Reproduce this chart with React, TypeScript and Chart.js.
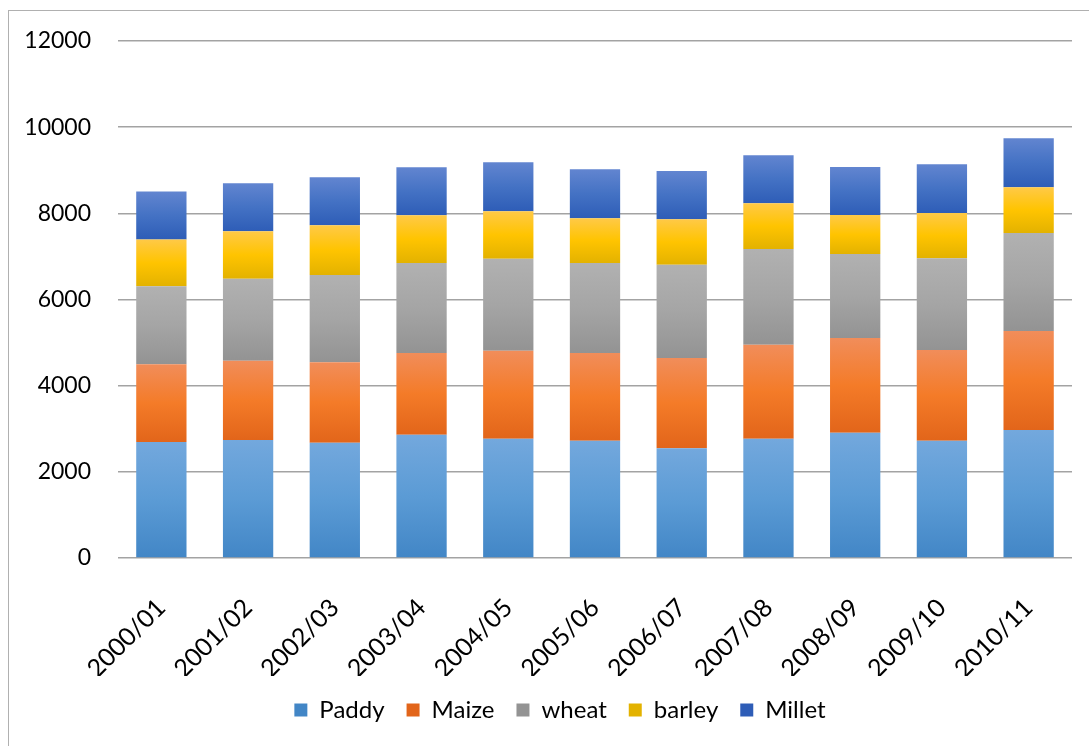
import React, { useEffect, useRef } from "react";
import { Chart, registerables } from "chart.js";

Chart.register(...registerables);

// Crop seasons along the x axis
const SEASONS = [
  "2000/01", "2001/02", "2002/03", "2003/04", "2004/05", "2005/06",
  "2006/07", "2007/08", "2008/09", "2009/10", "2010/11",
];

// Production per crop and season (stacked bottom to top)
const PADDY = [2690, 2740, 2675, 2860, 2770, 2720, 2550, 2770, 2905, 2720, 2970];
const MAIZE = [1810, 1840, 1870, 1900, 2040, 2040, 2090, 2180, 2200, 2105, 2300];
const WHEAT = [1805, 1900, 2025, 2090, 2135, 2090, 2165, 2225, 1950, 2135, 2275];
const BARLEY = [1090, 1105, 1155, 1105, 1105, 1035, 1060, 1060, 905, 1050, 1060];
const MILLET = [1110, 1115, 1115, 1115, 1135, 1140, 1115, 1115, 1115, 1130, 1140];

const SERIES_NAMES = ["Paddy", "Maize", "wheat", "barley", "Millet"];
const SERIES = [PADDY, MAIZE, WHEAT, BARLEY, MILLET];

// Y axis range and step
const Y_MIN = 0;
const Y_MAX = 12000;
const Y_STEP = 2000;

// Gradient stops per series: light top, base middle, dark bottom
const PALETTE: string[][] = [
  ["#73a8dd", "#5b9bd5", "#4286c6"],
  ["#f18d5a", "#f47b28", "#e2651a"],
  ["#b1b1b1", "#a5a5a5", "#939393"],
  ["#ffc947", "#ffc400", "#e3b200"],
  ["#6285d0", "#4472c4", "#2e5db7"],
];

const FONT = "Lato, 'Open Sans', 'DejaVu Sans', sans-serif";

function segmentFill(ctx: any, ds: number) {
  const stops = PALETTE[ds];
  const chart = ctx.chart;
  const yScale = chart.scales && chart.scales.y;
  if (ctx.type !== "data" || !yScale || !chart.chartArea) return stops[1];
  const i = ctx.dataIndex;
  let base = 0;
  for (let k = 0; k < ds; k++) base += SERIES[k][i];
  const top = base + SERIES[ds][i];
  const yTop = yScale.getPixelForValue(top);
  const yBase = yScale.getPixelForValue(base);
  if (!isFinite(yTop) || !isFinite(yBase) || yTop === yBase) return stops[1];
  const g = chart.ctx.createLinearGradient(0, yTop, 0, yBase);
  g.addColorStop(0, stops[0]);
  g.addColorStop(0.5, stops[1]);
  g.addColorStop(1, stops[2]);
  return g;
}

// Centre the legend row under the plot rather than the whole canvas
const legendUnderPlot = {
  id: "legendUnderPlot",
  afterLayout(chart: any) {
    const legend = chart.legend;
    if (!legend) return;
    const shift = chart.chartArea.left - 70;
    legend.left = shift;
    legend.width = legend.right - legend.left;
    if (typeof legend.adjustHitBoxes === "function") legend.adjustHitBoxes();
  },
};

export default function App() {
  const canvasRef = useRef<HTMLCanvasElement | null>(null);

  useEffect(() => {
    const canvas = canvasRef.current;
    if (!canvas) return;
    const chart = new Chart(canvas, {
      type: "bar",
      data: {
        labels: SEASONS,
        datasets: SERIES.map((values, ds) => ({
          label: SERIES_NAMES[ds],
          data: values,
          backgroundColor: (c: any) => segmentFill(c, ds),
          borderWidth: 0,
          categoryPercentage: 1,
          barPercentage: 0.58,
        })),
      },
      options: {
        animation: false,
        responsive: false,
        maintainAspectRatio: false,
        layout: { padding: { top: 41, right: 17, bottom: 14, left: 0 } },
        plugins: {
          tooltip: { enabled: false },
          legend: {
            position: "bottom",
            labels: {
              boxWidth: 13,
              boxHeight: 13,
              padding: 22,
              color: "#000",
              font: { family: FONT, size: 24 },
            },
          },
        },
        scales: {
          x: {
            stacked: true,
            grid: { display: false },
            border: { display: false },
            ticks: {
              color: "#000",
              font: { family: FONT, size: 25 },
              minRotation: 45,
              maxRotation: 45,
              padding: 27,
              autoSkip: false,
            },
            afterFit: (scale: any) => {
              scale.height = 118;
            },
          },
          y: {
            stacked: true,
            min: Y_MIN,
            max: Y_MAX,
            grid: { color: "#a3a3a3", lineWidth: 1.5, drawTicks: false },
            border: { display: false },
            ticks: {
              stepSize: Y_STEP,
              color: "#000",
              font: { family: FONT, size: 23 },
              padding: 27,
              callback: (v: any) => String(v),
            },
            afterFit: (scale: any) => {
              scale.width = 118;
            },
          },
        },
      },
      plugins: [legendUnderPlot],
    });
    return () => chart.destroy();
  }, []);

  return (
    <div
      style={{
        position: "fixed",
        left: 0,
        top: 0,
        width: 1089,
        height: 746,
        overflow: "hidden",
        background: "#fff",
      }}
    >
      <div
        style={{
          position: "absolute",
          left: 8,
          top: 10,
          width: 1200,
          height: 900,
          border: "1.5px solid #b0b0b0",
        }}
      />
      <canvas
        ref={canvasRef}
        width={1089}
        height={746}
        style={{ position: "absolute", left: 0, top: 0 }}
      />
    </div>
  );
}
